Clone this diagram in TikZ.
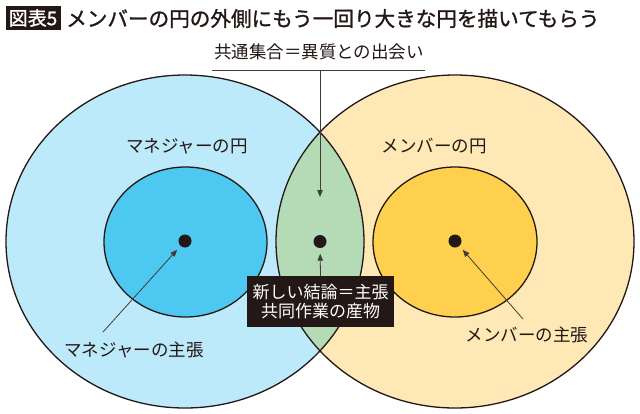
\documentclass[tikz,border=0pt]{standalone}
\usepackage{fontspec}
\setmainfont{Noto Sans CJK JP}
\newfontfamily\titlefont[FakeBold=1.2]{Noto Sans CJK JP}
\usetikzlibrary{arrows.meta}
\definecolor{lblue}{HTML}{BDEAFB}
\definecolor{dblue}{HTML}{4CC8F1}
\definecolor{lyel}{HTML}{FEE9B6}
\definecolor{dyel}{HTML}{FED04E}
\definecolor{lgreen}{HTML}{B4DAB6}
\definecolor{ink}{HTML}{231815}
\begin{document}
\begin{tikzpicture}[x=1pt,y=-1pt,
  outline/.style={draw=ink,line width=1.3pt},
  lbl/.style={font=\fontsize{17.5}{20}\selectfont,text=ink,inner sep=0pt},
  dotnode/.style={circle,fill=ink,inner sep=0pt,minimum size=13pt},
  pointer/.style={draw=ink!85,line width=0.8pt,-{Triangle[length=7pt,width=5.5pt]}}]
\useasboundingbox (0,0) rectangle (640,413);
\fill[white] (0,0) rectangle (640,413);
% big ellipses
\fill[lblue] (185,241.5) ellipse [x radius=179, y radius=166.5];
\fill[lyel] (455,241.5) ellipse [x radius=179, y radius=166.5];
\begin{scope}
  \clip (185,241.5) ellipse [x radius=179, y radius=166.5];
  \fill[lgreen] (455,241.5) ellipse [x radius=179, y radius=166.5];
\end{scope}
\draw[outline] (185,241.5) ellipse [x radius=179, y radius=166.5];
\draw[outline] (455,241.5) ellipse [x radius=179, y radius=166.5];
% inner ellipses
\filldraw[outline,fill=dblue] (185.5,242) ellipse [x radius=81.5, y radius=75];
\filldraw[outline,fill=dyel] (455,242) ellipse [x radius=82, y radius=75];
% dots
\node[dotnode] (dotL) at (185,241) {};
\node[dotnode] (dotC) at (320,241.5) {};
\node[dotnode] (dotR) at (455,241) {};
% title
\node[fill=ink,text=white,font=\fontsize{19}{22}\selectfont\titlefont,inner sep=0pt,minimum width=55pt,minimum height=24pt] (tag) at (33,18) {図表5};
\node[anchor=west,font=\fontsize{20.6}{24}\selectfont\titlefont,inner sep=0pt,text=ink] (title) at (66,18.5) {メンバーの円の外側にもう一回り大きな円を描いてもらう};
% top label
\node[lbl] (common) at (319,52) {共通集合＝異質との出会い};
\coordinate (ulL) at (212,70);
\coordinate (ulR) at (425,70);
\coordinate (ulM) at (320,70);
\coordinate (tipTop) at (320,197);
\draw[draw=ink!85,line width=0.9pt] (ulL) -- (ulR);
\draw[pointer] (ulM) -- (tipTop);
% circle labels
\node[lbl] (mcircle) at (187,146) {マネジャーの円};
\node[lbl] (bcircle) at (434,146) {メンバーの円};
% box
\node[fill=ink,text=white,font=\fontsize{17}{19}\selectfont,align=center,inner sep=0pt,minimum width=147pt,minimum height=51pt] (box) at (320.5,301.5) {新しい結論＝主張\\共同作業の産物};
\draw[pointer,shorten >=5.5pt] (box.north) -- (dotC);
% claims
\node[lbl] (mclaim) at (134,350) {マネジャーの主張};
\node[lbl] (bclaim) at (527,335) {メンバーの主張};
\coordinate (mstart) at (103,332);
\coordinate (bstart) at (523,319);
\draw[pointer,shorten >=5pt] (mstart) -- (dotL);
\draw[pointer,shorten >=5pt] (bstart) -- (dotR);
\end{tikzpicture}
\end{document}
